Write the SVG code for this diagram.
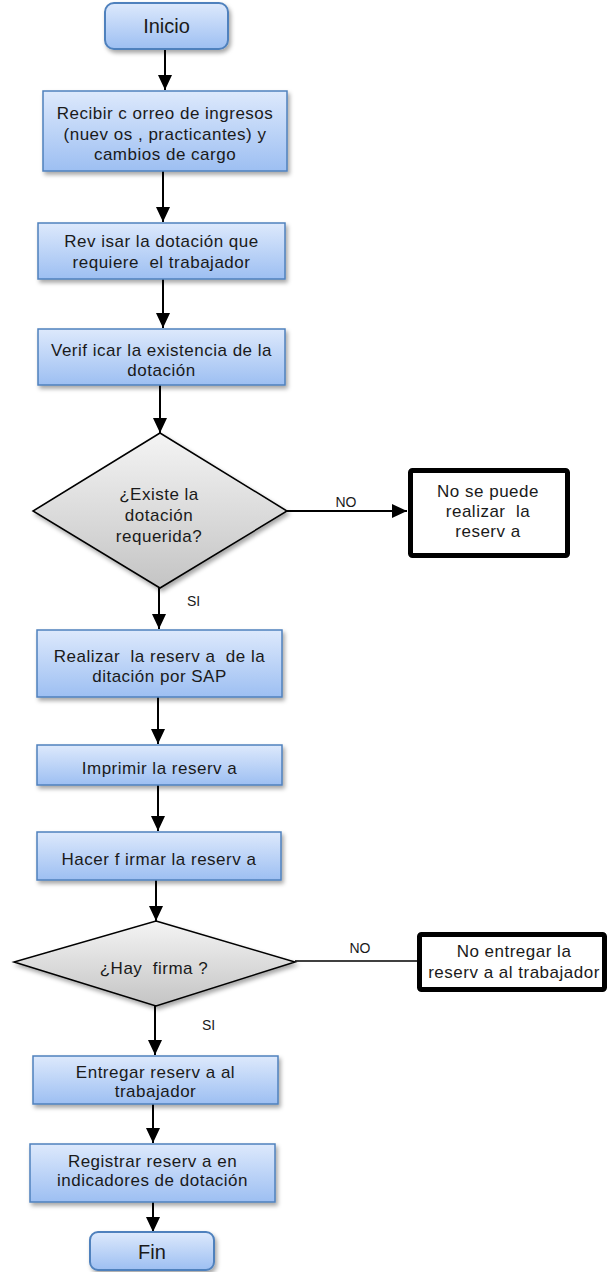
<svg xmlns="http://www.w3.org/2000/svg" width="608" height="1272" viewBox="0 0 608 1272">
<defs>
<linearGradient id="gBlue" x1="0" y1="0" x2="0" y2="1">
<stop offset="0" stop-color="#dde9fc"/>
<stop offset="1" stop-color="#9dbff2"/>
</linearGradient>
<linearGradient id="gGray" x1="0" y1="0" x2="0" y2="1">
<stop offset="0" stop-color="#f4f4f4"/>
<stop offset="1" stop-color="#c4c4c4"/>
</linearGradient>
<filter id="sh" x="-10%" y="-10%" width="125%" height="135%">
<feDropShadow dx="2" dy="3" stdDeviation="2" flood-color="#000" flood-opacity="0.35"/>
</filter>
<marker id="arr" markerUnits="userSpaceOnUse" markerWidth="16" markerHeight="16" viewBox="0 0 16 16" refX="15" refY="8" orient="auto">
<path d="M0,1 L15,8 L0,15 Z" fill="#000"/>
</marker>
<style>
.box{fill:url(#gBlue);stroke:#4f81bd;stroke-width:1.5;filter:url(#sh)}
.term{fill:url(#gBlue);stroke:#4f81bd;stroke-width:2;filter:url(#sh)}
.dia{fill:url(#gGray);stroke:#000;stroke-width:1.5;filter:url(#sh)}
.end{fill:#fff;stroke:#000;stroke-width:5}
.t{font-family:"Liberation Sans",Arial,sans-serif;font-size:17px;fill:#1a1a1a;text-anchor:middle;letter-spacing:0.5px;white-space:pre}
.tl{font-family:"Liberation Sans",Arial,sans-serif;font-size:20px;fill:#1a1a1a;text-anchor:middle}
.lb{font-family:"Liberation Sans",Arial,sans-serif;font-size:14px;fill:#1a1a1a}
.c{stroke:#000;stroke-width:2;fill:none}
</style>
</defs>
<g id="connectors">
<line class="c" x1="165" y1="49" x2="165" y2="90" marker-end="url(#arr)"/>
<line class="c" x1="163" y1="171" x2="163" y2="222" marker-end="url(#arr)"/>
<line class="c" x1="163" y1="279" x2="163" y2="328" marker-end="url(#arr)"/>
<line class="c" x1="160" y1="385" x2="160" y2="433" marker-end="url(#arr)"/>
<line class="c" x1="159" y1="588" x2="159" y2="629" marker-end="url(#arr)"/>
<line class="c" x1="287" y1="511" x2="407" y2="511" marker-end="url(#arr)"/>
<line class="c" x1="158" y1="697" x2="158" y2="744" marker-end="url(#arr)"/>
<line class="c" x1="158" y1="785" x2="158" y2="831" marker-end="url(#arr)"/>
<line class="c" x1="156" y1="880" x2="156" y2="921" marker-end="url(#arr)"/>
<line class="c" x1="295" y1="961" x2="417" y2="961" style="stroke-width:1.5"/>
<line class="c" x1="155" y1="1006" x2="155" y2="1055" marker-end="url(#arr)"/>
<line class="c" x1="153" y1="1104" x2="153" y2="1143" marker-end="url(#arr)"/>
<line class="c" x1="153" y1="1202" x2="153" y2="1232" marker-end="url(#arr)"/>
<text class="lb" x="346" y="507" text-anchor="middle">NO</text>
<text class="lb" x="187" y="606">SI</text>
<text class="lb" x="360" y="953" text-anchor="middle">NO</text>
<text class="lb" x="202" y="1030">SI</text>
</g>
<g id="inicio">
<rect class="term" x="105" y="3" width="123" height="46" rx="9"/>
<text class="tl" x="166.5" y="33">Inicio</text>
</g>
<g id="recibir">
<rect class="box" x="43" y="91" width="244" height="80"/>
<text class="t" x="165" y="119">Recibir c orreo de ingresos</text>
<text class="t" x="165" y="139.5">(nuev os , practicantes) y</text>
<text class="t" x="165" y="160">cambios de cargo</text>
</g>
<g id="revisar">
<rect class="box" x="38" y="223" width="247" height="56"/>
<text class="t" x="161.5" y="247">Rev isar la dotación que</text>
<text class="t" x="161.5" y="268">requiere  el trabajador</text>
</g>
<g id="verificar">
<rect class="box" x="38" y="329" width="247" height="56"/>
<text class="t" x="161.5" y="356">Verif icar la existencia de la</text>
<text class="t" x="161.5" y="376">dotación</text>
</g>
<g id="existe">
<polygon class="dia" points="160,433 287,511 160,588 33,511"/>
<text class="t" x="159" y="500">¿Existe la</text>
<text class="t" x="159" y="521">dotación</text>
<text class="t" x="159" y="542">requerida?</text>
</g>
<g id="no-reserva">
<rect class="end" x="410.5" y="470.5" width="157" height="85" rx="2"/>
<text class="t" x="488" y="497">No se puede</text>
<text class="t" x="488" y="517">realizar  la</text>
<text class="t" x="488" y="537">reserv a</text>
</g>
<g id="realizar">
<rect class="box" x="37" y="630" width="245" height="67"/>
<text class="t" x="159.5" y="662">Realizar  la reserv a  de la</text>
<text class="t" x="159.5" y="682">ditación por SAP</text>
</g>
<g id="imprimir">
<rect class="box" x="37" y="745" width="245" height="40"/>
<text class="t" x="159.5" y="774">Imprimir la reserv a</text>
</g>
<g id="hacer-firmar">
<rect class="box" x="37" y="832" width="244" height="48"/>
<text class="t" x="159" y="865">Hacer f irmar la reserv a</text>
</g>
<g id="hay-firma">
<polygon class="dia" points="156,921 295,962 156,1006 14,962"/>
<text class="t" x="154" y="974">¿Hay  firma ?</text>
</g>
<g id="no-entregar">
<rect class="end" x="419.5" y="934.5" width="185" height="55" rx="2"/>
<text class="t" x="514" y="957">No entregar la</text>
<text class="t" x="514" y="978">reserv a al trabajador</text>
</g>
<g id="entregar">
<rect class="box" x="33" y="1056" width="245" height="48"/>
<text class="t" x="155.5" y="1078">Entregar reserv a al</text>
<text class="t" x="155.5" y="1097">trabajador</text>
</g>
<g id="registrar">
<rect class="box" x="30" y="1144" width="245" height="58"/>
<text class="t" x="152.5" y="1167">Registrar reserv a en</text>
<text class="t" x="152.5" y="1186">indicadores de dotación</text>
</g>
<g id="fin">
<rect class="term" x="90" y="1232" width="124" height="38" rx="8"/>
<text class="tl" x="152" y="1259">Fin</text>
</g>
</svg>
